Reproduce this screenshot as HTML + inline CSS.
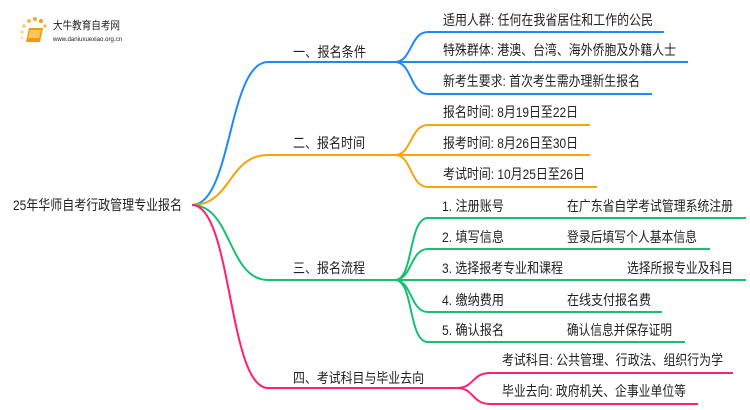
<!DOCTYPE html>
<html><head><meta charset="utf-8"><style>
html,body{margin:0;padding:0;background:#fff;}
svg{display:block;}
text{font-family:"Liberation Sans","Noto Sans CJK SC",sans-serif;fill:#222;}
</style></head><body>
<svg width="750" height="410" viewBox="0 0 750 410" xmlns="http://www.w3.org/2000/svg">
<g fill="none" stroke-width="2">
<path stroke="#1e88ff" d="M192 205 C232 205 228 62 268 62 L395 62"/>
<path stroke="#f5a50a" d="M192 205 C232 205 228 155 268 155 L395 155"/>
<path stroke="#17c06e" d="M192 205 C232 205 228 280 268 280 L395 280"/>
<path stroke="#ff1f73" d="M192 205 C232 205 228 388 268 388 L457 388"/>
<path stroke="#1e88ff" d="M395 62 C412 62 410 32 428 32 L664 32 M395 62 L688 62 M395 62 C412 62 410 94 428 94 L652 94"/>
<path stroke="#f5a50a" d="M395 155 C412 155 410 125 428 125 L590 125 M395 155 L590 155 M395 155 C412 155 410 187 428 187 L597 187"/>
<path stroke="#17c06e" d="M395 280 C414 280 408 218 428 218 L746 218 M395 280 C412 280 410 249 428 249 L710 249 M395 280 L746 280 M395 280 C412 280 410 312 428 312 L662 312 M395 280 C414 280 408 342 428 342 L685 342"/>
<path stroke="#ff1f73" d="M457 388 C474 388 472 373 490 373 L733 373 M457 388 C474 388 472 404 490 404 L698 404"/>
</g>
<!-- logo -->
<g>
<circle cx="22" cy="32" r="1.6" fill="#fbd38a"/><circle cx="24" cy="26" r="1.8" fill="#fbc96a"/><circle cx="29" cy="21" r="2" fill="#f9b949"/><circle cx="35" cy="19" r="2" fill="#f7a92e"/><circle cx="41" cy="21" r="2" fill="#f59e1a"/><circle cx="45" cy="26" r="1.6" fill="#f7b64a"/><circle cx="22" cy="38" r="1.4" fill="#fde0a8"/>
<path d="M29 28 L43 28 L40 42 L26 42 Z" fill="#f29a12"/><path d="M30 30 L41 30 L39 38 L28 38 Z" fill="#ffc65a"/>
<text x="53" y="29" font-size="11" textLength="67" lengthAdjust="spacingAndGlyphs" fill="#333">大牛教育自考网</text>
<text x="53" y="41" font-size="6" textLength="69" lengthAdjust="spacingAndGlyphs" fill="#666">www.daniuxuexiao.org.cn</text>
</g>
<text x="13" y="210" font-size="14" textLength="169" lengthAdjust="spacingAndGlyphs">25年华师自考行政管理专业报名</text>
<g font-size="14">
<text x="293" y="57" textLength="73" lengthAdjust="spacingAndGlyphs">一、报名条件</text>
<text x="293" y="148" textLength="72" lengthAdjust="spacingAndGlyphs">二、报名时间</text>
<text x="293" y="273" textLength="72" lengthAdjust="spacingAndGlyphs">三、报名流程</text>
<text x="293" y="383" textLength="131" lengthAdjust="spacingAndGlyphs">四、考试科目与毕业去向</text>

<text x="443" y="25" textLength="210" lengthAdjust="spacingAndGlyphs">适用人群: 任何在我省居住和工作的公民</text>
<text x="443" y="55" textLength="233" lengthAdjust="spacingAndGlyphs">特殊群体: 港澳、台湾、海外侨胞及外籍人士</text>
<text x="443" y="86" textLength="197" lengthAdjust="spacingAndGlyphs">新考生要求: 首次考生需办理新生报名</text>

<text x="443" y="117" textLength="135" lengthAdjust="spacingAndGlyphs">报名时间: 8月19日至22日</text>
<text x="443" y="148" textLength="135" lengthAdjust="spacingAndGlyphs">报考时间: 8月26日至30日</text>
<text x="443" y="179" textLength="142" lengthAdjust="spacingAndGlyphs">考试时间: 10月25日至26日</text>

<text x="442" y="211" textLength="62" lengthAdjust="spacingAndGlyphs">1. 注册账号</text>
<text x="567" y="211" textLength="166" lengthAdjust="spacingAndGlyphs">在广东省自学考试管理系统注册</text>
<text x="442" y="242" textLength="62" lengthAdjust="spacingAndGlyphs">2. 填写信息</text>
<text x="567" y="242" textLength="130" lengthAdjust="spacingAndGlyphs">登录后填写个人基本信息</text>
<text x="442" y="273" textLength="121" lengthAdjust="spacingAndGlyphs">3. 选择报考专业和课程</text>
<text x="627" y="273" textLength="106" lengthAdjust="spacingAndGlyphs">选择所报专业及科目</text>
<text x="442" y="305" textLength="62" lengthAdjust="spacingAndGlyphs">4. 缴纳费用</text>
<text x="567" y="305" textLength="84" lengthAdjust="spacingAndGlyphs">在线支付报名费</text>
<text x="442" y="335" textLength="62" lengthAdjust="spacingAndGlyphs">5. 确认报名</text>
<text x="567" y="335" textLength="105" lengthAdjust="spacingAndGlyphs">确认信息并保存证明</text>

<text x="502" y="365" textLength="221" lengthAdjust="spacingAndGlyphs">考试科目: 公共管理、行政法、组织行为学</text>
<text x="502" y="396" textLength="184" lengthAdjust="spacingAndGlyphs">毕业去向: 政府机关、企事业单位等</text>
</g>
</svg>
</body></html>
